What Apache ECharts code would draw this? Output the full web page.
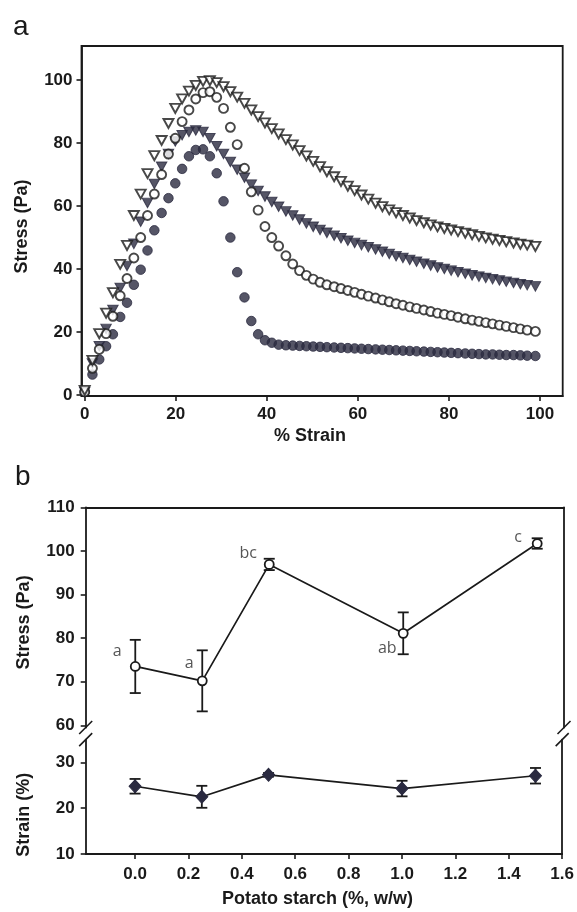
<!DOCTYPE html>
<html>
<head>
<meta charset="utf-8">
<script src="https://cdn.jsdelivr.net/npm/echarts@6/dist/echarts.min.js"></script>
<style>
  html, body { margin: 0; padding: 0; background: #ffffff; }
  #chart { width: 577px; height: 912px; }
</style>
</head>
<body>
<div id="chart"></div>
<script>
// ---- Panel a: stress vs. strain sweep ----
const strainPct = [
  0, 1.7, 3.2, 4.7, 6.2, 7.8, 9.3, 10.8, 12.3, 13.8,
  15.3, 16.9, 18.4, 19.9, 21.4, 22.9, 24.4, 26.0, 27.5, 29.0,
  30.5, 32.0, 33.5, 35.1, 36.6, 38.1, 39.6, 41.1, 42.6, 44.2,
  45.7, 47.2, 48.7, 50.2, 51.7, 53.2, 54.8, 56.3, 57.8, 59.3,
  60.8, 62.3, 63.9, 65.4, 66.9, 68.4, 69.9, 71.4, 72.9, 74.5,
  76.0, 77.5, 79.0, 80.5, 82.0, 83.6, 85.1, 86.6, 88.1, 89.6,
  91.1, 92.6, 94.2, 95.7, 97.2, 99.0
];
const stressFilledCircle = [
  1, 6.5, 11.3, 15.5, 19.3, 24.8, 29.3, 35.0, 39.8, 45.9,
  52.3, 57.8, 62.5, 67.2, 71.8, 75.8, 77.8, 78.0, 75.8, 70.4,
  61.5, 50.0, 39.0, 31.0, 23.5, 19.3, 17.4, 16.6, 16.0, 15.8,
  15.7, 15.6, 15.5, 15.4, 15.3, 15.2, 15.1, 15.0, 14.9, 14.8,
  14.7, 14.6, 14.5, 14.4, 14.3, 14.2, 14.1, 14.0, 13.9, 13.8,
  13.7, 13.6, 13.5, 13.4, 13.3, 13.2, 13.1, 13.0, 12.9, 12.9,
  12.8, 12.7, 12.7, 12.6, 12.5, 12.4
];
const stressOpenCircle = [
  1, 8.5, 14.5, 19.5, 25.0, 31.5, 37.0, 43.5, 50.0, 57.0,
  63.8, 70.0, 76.5, 81.5, 86.8, 90.5, 94.0, 96.0, 96.3, 94.5,
  91.0, 85.0, 79.5, 72.0, 64.5, 58.7, 53.5, 50.0, 47.3, 44.2,
  41.6, 39.5, 38.0, 36.8, 35.8, 35.0, 34.4, 33.8, 33.2, 32.6,
  32.0, 31.4, 30.8, 30.2, 29.6, 29.0, 28.5, 28.0, 27.5, 27.0,
  26.5, 26.0, 25.6, 25.2, 24.7, 24.2, 23.8, 23.4, 23.0, 22.6,
  22.2, 21.8, 21.4, 21.0, 20.6, 20.2
];
const stressFilledTriangle = [
  1, 10.0, 15.5, 21.0, 27.0, 34.0, 41.0, 48.0, 55.0, 61.0,
  67.0, 72.5, 76.5, 80.5, 82.5, 83.5, 84.0, 83.5, 81.5, 79.0,
  76.5, 74.0, 71.5, 69.0, 66.8, 64.8, 63.0, 61.3, 59.8, 58.3,
  57.0, 55.7, 54.5, 53.4, 52.4, 51.5, 50.6, 49.8, 49.0, 48.3,
  47.6, 46.9, 46.2, 45.5, 44.8, 44.1, 43.5, 42.9, 42.3, 41.7,
  41.1, 40.5, 40.0, 39.5, 39.0, 38.5, 38.0, 37.6, 37.2, 36.8,
  36.4, 36.0, 35.6, 35.2, 34.9, 34.5
];
const stressOpenTriangle = [
  1.5, 11.0, 19.5, 26.0, 32.5, 41.5, 47.5, 57.0, 63.8, 70.3,
  76.0, 80.8, 86.2, 91.0, 94.0, 96.5, 98.3, 99.6, 99.8, 99.2,
  97.9, 96.3, 94.6, 92.6, 90.5, 88.4, 86.4, 84.6, 82.9, 81.1,
  79.4, 77.6, 75.9, 74.2, 72.5, 70.9, 69.3, 67.8, 66.3, 64.9,
  63.5, 62.2, 60.9, 59.8, 58.8, 57.9, 57.0, 56.2, 55.4, 54.7,
  54.0, 53.4, 52.9, 52.4, 51.9, 51.4, 50.9, 50.4, 49.9, 49.5,
  49.1, 48.7, 48.3, 47.9, 47.6, 47.2
];
const strainTicks = [0, 20, 40, 60, 80, 100];
const stressTicksA = [0, 20, 40, 60, 80, 100];

// ---- Panel b: peak values vs. potato starch level ----
const starchLevel = [0, 0.25, 0.5, 1.0, 1.5];
const peakStress = [73.5, 70.2, 96.9, 81.1, 101.7];
const peakStressErr = [6.1, 7.0, 1.3, 4.8, 1.2];
const peakStrain = [24.8, 22.5, 27.3, 24.3, 27.1];
const peakStrainErr = [1.6, 2.4, 0.4, 1.7, 1.7];
const stressGroups = ['a', 'a', 'bc', 'ab', 'c'];
const starchTicks = [0.0, 0.2, 0.4, 0.6, 0.8, 1.0, 1.2, 1.4, 1.6];
const stressTicksB = [60, 70, 80, 90, 100, 110];
const strainTicksB = [10, 20, 30];

// ---- styling ----
const INK = '#1a1a1a';
const DARK = '#2a2a40';
const TICK_FONT = { color: INK, fontFamily: 'Liberation Sans', fontWeight: 'bold', fontSize: 17 };
const TITLE_FONT = { color: INK, fontFamily: 'Liberation Sans', fontWeight: 'bold', fontSize: 18 };
const AXIS_LINE = { show: true, onZero: false, lineStyle: { color: INK, width: 1.8 } };
const TRI_DOWN = 'path://M0,0 L10,0 L5,9 Z';

// where each group letter sits relative to its error-bar cap
const letterAtLowerCap = [false, false, false, true, false];
const letterOffset = [[-18, 12], [-13, 13], [-21, -5], [-16, -6], [-19, -1]];

const pairs = (xs, ys) => xs.map((x, i) => [x, ys[i]]);

function sweepSeries(name, values, symbol, filled, size) {
  return {
    name, type: 'scatter', xAxisIndex: 0, yAxisIndex: 0,
    data: pairs(strainPct, values),
    symbol, symbolSize: size, clip: false,
    itemStyle: filled
      ? { color: DARK, borderColor: DARK, borderWidth: 1 }
      : { color: '#ffffff', borderColor: INK, borderWidth: 1.9 },
    z: filled ? 3 : 4
  };
}

function errorBars(xAxisIndex, yAxisIndex, ys, errs) {
  return {
    type: 'custom', xAxisIndex, yAxisIndex, z: 2,
    data: starchLevel.map((x, i) => [x, ys[i], errs[i]]),
    renderItem(params, api) {
      const x = api.value(0), y = api.value(1), e = api.value(2);
      const hi = api.coord([x, y + e]);
      const lo = api.coord([x, y - e]);
      const half = 5.5;
      const st = { stroke: INK, lineWidth: 1.8 };
      return {
        type: 'group',
        children: [
          { type: 'line', shape: { x1: hi[0], y1: hi[1], x2: lo[0], y2: lo[1] }, style: st },
          { type: 'line', shape: { x1: hi[0] - half, y1: hi[1], x2: hi[0] + half, y2: hi[1] }, style: st },
          { type: 'line', shape: { x1: lo[0] - half, y1: lo[1], x2: lo[0] + half, y2: lo[1] }, style: st }
        ]
      };
    }
  };
}

const xMinB = -0.185, xMaxB = 1.6;
const stressMinB = 59.5, stressMaxB = 110;
const strainMinB = 10, strainMaxB = 35;

const option = {
  animation: false,
  backgroundColor: '#ffffff',
  title: [
    { text: 'a', left: 8, top: 8, textStyle: { fontFamily: 'Liberation Sans', fontWeight: 'normal', fontSize: 28, color: INK } },
    { text: 'b', left: 10, top: 458, textStyle: { fontFamily: 'Liberation Sans', fontWeight: 'normal', fontSize: 28, color: INK } }
  ],
  grid: [
    { left: 81.5, top: 46, width: 481.2, height: 350, show: true, borderColor: INK, borderWidth: 1.8 },
    { left: 85.7, top: 507.3, width: 478.3, height: 220.2 },
    { left: 85.7, top: 739.6, width: 478.3, height: 114.4 }
  ],
  xAxis: [
    {
      gridIndex: 0, type: 'value', min: -0.7, max: 105,
      name: '% Strain', nameLocation: 'middle', nameGap: 31,
      nameTextStyle: Object.assign({ padding: [0, 24, 0, 0] }, TITLE_FONT),
      axisLine: AXIS_LINE,
      axisTick: { show: true, inside: false, length: 5, customValues: strainTicks, lineStyle: { color: INK, width: 1.6 } },
      axisLabel: Object.assign({ margin: 10, customValues: strainTicks }, TICK_FONT),
      splitLine: { show: false }
    },
    {
      gridIndex: 1, type: 'value', min: xMinB, max: xMaxB,
      axisLine: { show: false }, axisTick: { show: false }, axisLabel: { show: false }, splitLine: { show: false }
    },
    {
      gridIndex: 1, type: 'value', position: 'top', min: xMinB, max: xMaxB,
      axisLine: AXIS_LINE, axisTick: { show: false }, axisLabel: { show: false }, splitLine: { show: false }
    },
    {
      gridIndex: 2, type: 'value', min: xMinB, max: xMaxB,
      name: 'Potato starch (%, w/w)', nameLocation: 'middle', nameGap: 36,
      nameTextStyle: Object.assign({ padding: [0, 13, 0, 0] }, TITLE_FONT),
      axisLine: AXIS_LINE,
      axisTick: { show: true, length: 5, customValues: starchTicks, lineStyle: { color: INK, width: 1.6 } },
      axisLabel: Object.assign({ margin: 12, customValues: starchTicks, formatter: v => v.toFixed(1) }, TICK_FONT),
      splitLine: { show: false }
    }
  ],
  yAxis: [
    {
      gridIndex: 0, type: 'value', min: -0.3, max: 110.8,
      name: 'Stress (Pa)', nameLocation: 'middle', nameGap: 50,
      nameTextStyle: Object.assign({ padding: [0, 11, 0, 0] }, TITLE_FONT),
      axisLine: AXIS_LINE,
      axisTick: { show: true, length: 5, customValues: stressTicksA, lineStyle: { color: INK, width: 1.6 } },
      axisLabel: Object.assign({ margin: 9, customValues: stressTicksA }, TICK_FONT),
      splitLine: { show: false }
    },
    {
      gridIndex: 1, type: 'value', min: stressMinB, max: stressMaxB,
      name: 'Stress (Pa)', nameLocation: 'middle', nameGap: 53,
      nameTextStyle: Object.assign({ padding: [0, 10, 0, 0] }, TITLE_FONT),
      axisLine: AXIS_LINE,
      axisTick: { show: true, length: 5, customValues: stressTicksB, lineStyle: { color: INK, width: 1.6 } },
      axisLabel: Object.assign({ margin: 11, customValues: stressTicksB }, TICK_FONT),
      splitLine: { show: false }
    },
    {
      gridIndex: 1, type: 'value', position: 'right', min: stressMinB, max: stressMaxB,
      axisLine: AXIS_LINE, axisTick: { show: false }, axisLabel: { show: false }, splitLine: { show: false }
    },
    {
      gridIndex: 2, type: 'value', min: strainMinB, max: strainMaxB,
      name: 'Strain (%)', nameLocation: 'middle', nameGap: 53,
      nameTextStyle: Object.assign({ padding: [0, 36, 0, 0] }, TITLE_FONT),
      axisLine: AXIS_LINE,
      axisTick: { show: true, length: 5, customValues: strainTicksB, lineStyle: { color: INK, width: 1.6 } },
      axisLabel: Object.assign({ margin: 11, customValues: strainTicksB }, TICK_FONT),
      splitLine: { show: false }
    },
    {
      gridIndex: 2, type: 'value', position: 'right', min: strainMinB, max: strainMaxB,
      axisLine: AXIS_LINE, axisTick: { show: false }, axisLabel: { show: false }, splitLine: { show: false }
    }
  ],
  series: [
    sweepSeries('filled circles', stressFilledCircle, 'circle', true, 9.5),
    sweepSeries('open circles', stressOpenCircle, 'circle', false, 9),
    sweepSeries('filled triangles', stressFilledTriangle, TRI_DOWN, true, [10.5, 9.5]),
    sweepSeries('open triangles', stressOpenTriangle, TRI_DOWN, false, [10, 9]),

    errorBars(1, 1, peakStress, peakStressErr),
    {
      name: 'peak stress', type: 'line', xAxisIndex: 1, yAxisIndex: 1, z: 4,
      data: pairs(starchLevel, peakStress),
      symbol: 'circle', symbolSize: 9, showSymbol: true,
      lineStyle: { color: INK, width: 1.7 },
      itemStyle: { color: '#ffffff', borderColor: INK, borderWidth: 1.8 }
    },
    {
      name: 'group letters', type: 'scatter', xAxisIndex: 1, yAxisIndex: 1, z: 5,
      symbolSize: 0, silent: true,
      data: starchLevel.map((x, i) => ({
        value: [x, letterAtLowerCap[i] ? peakStress[i] - peakStressErr[i] : peakStress[i] + peakStressErr[i]],
        label: { offset: letterOffset[i] }
      })),
      label: {
        show: true, position: 'inside',
        formatter: p => stressGroups[p.dataIndex],
        fontFamily: 'Open Sans', fontSize: 16, color: '#2a2a2a'
      }
    },

    errorBars(3, 3, peakStrain, peakStrainErr),
    {
      name: 'peak strain', type: 'line', xAxisIndex: 3, yAxisIndex: 3, z: 4,
      data: pairs(starchLevel, peakStrain),
      symbol: 'diamond', symbolSize: [12, 13], showSymbol: true,
      lineStyle: { color: INK, width: 1.7 },
      itemStyle: { color: DARK, borderColor: DARK, borderWidth: 1 }
    }
  ]
};

const chart = echarts.init(document.getElementById('chart'), null, { renderer: 'canvas' });
chart.setOption(option);

// Axis-break marks where the stress and strain scales meet
const breakPoints = [
  chart.convertToPixel({ xAxisIndex: 1, yAxisIndex: 1 }, [xMinB, stressMinB]),
  chart.convertToPixel({ xAxisIndex: 1, yAxisIndex: 1 }, [xMaxB, stressMinB]),
  chart.convertToPixel({ xAxisIndex: 3, yAxisIndex: 3 }, [xMinB, strainMaxB]),
  chart.convertToPixel({ xAxisIndex: 3, yAxisIndex: 3 }, [xMaxB, strainMaxB])
];
const d = 6.5;
chart.setOption({
  graphic: breakPoints.map(p => ({
    type: 'line', z: 10,
    shape: { x1: p[0] - d, y1: p[1] + d, x2: p[0] + d, y2: p[1] - d },
    style: { stroke: INK, lineWidth: 1.6 }
  }))
});
</script>
</body>
</html>
